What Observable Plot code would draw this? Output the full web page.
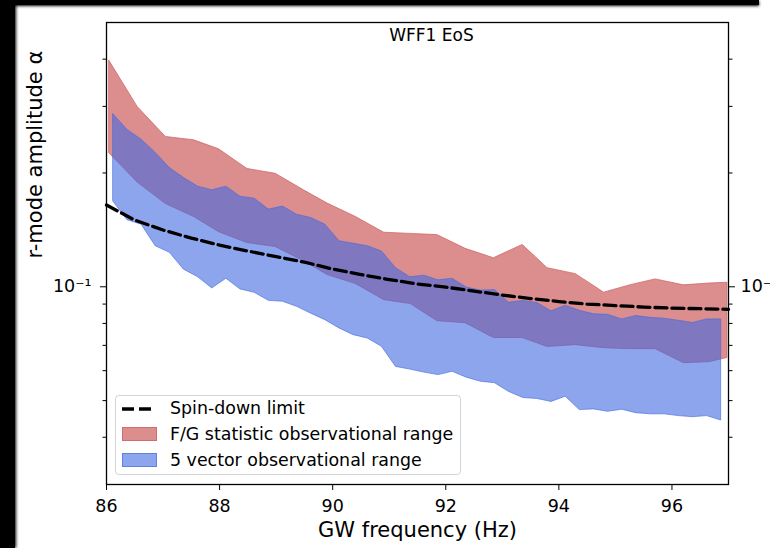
<!DOCTYPE html>
<html><head><meta charset="utf-8">
<script src="https://cdn.jsdelivr.net/npm/d3@7"></script>
<script src="https://cdn.jsdelivr.net/npm/@observablehq/plot@0.6"></script>
<style>
html,body{margin:0;padding:0;background:#fff;}
#wrap{position:relative;width:770px;height:548px;overflow:hidden;font-family:"DejaVu Sans",sans-serif;}
#wrap svg.plotsvg{position:absolute;left:0;top:0;}
.bar{position:absolute;background:#000;z-index:5;}
#legend{position:absolute;left:115px;top:395px;width:346px;height:80px;border:1px solid #d4d4d4;border-radius:4px;background:rgba(255,255,255,0.8);z-index:4;box-sizing:border-box;}
.lt{position:absolute;left:54px;font-size:17.4px;line-height:17px;color:#000;white-space:nowrap;}
.patch{position:absolute;left:6px;width:35px;height:14px;box-sizing:border-box;}
</style></head><body>
<div id="wrap">
  <div class="bar" style="left:0;top:0;width:759px;height:5px;box-shadow:0 1px 3px #000;"></div>
  <div class="bar" style="left:0;top:0;width:15px;height:548px;box-shadow:1px 0 3px #000;"></div>
  <div id="legend">
    <svg width="40" height="20" style="position:absolute;left:4px;top:3px"><line x1="2" x2="33" y1="10" y2="10" stroke="#000" stroke-width="3.3" stroke-dasharray="12,5"/></svg>
    <div class="lt" style="top:4px">Spin-down limit</div>
    <div class="patch" style="top:31px;background:rgba(205,92,92,0.7);border:1px solid rgba(205,92,92,0.7)"></div>
    <div class="lt" style="top:30px">F/G statistic observational range</div>
    <div class="patch" style="top:57px;background:rgba(65,105,225,0.6);border:1px solid rgba(65,105,225,0.6)"></div>
    <div class="lt" style="top:56px">5 vector observational range</div>
  </div>
</div>
<script>
// Spin-down limit
const sdFreq = [86, 86.5, 87, 87.5, 88, 88.5, 89, 89.5, 90, 90.5, 91, 91.5, 92, 92.5, 93, 93.5, 94, 94.5, 95, 95.5, 96, 96.5, 97];
const sdAlpha = [0.1645, 0.1501, 0.1413, 0.1345, 0.1289, 0.1243, 0.1202, 0.1162, 0.1114, 0.1077, 0.1045, 0.1017, 0.0998, 0.0974, 0.0951, 0.0931, 0.0914, 0.0900, 0.0892, 0.0884, 0.0878, 0.0875, 0.0872];

// F/G statistic observational range
const fgFreq = [86.05, 86.55, 87.05, 87.55, 87.99, 88.49, 88.99, 89.49, 89.91, 90.41, 90.91, 91.38, 91.85, 92.35, 92.85, 93.36, 93.80, 94.30, 94.80, 95.27, 95.71, 96.21, 96.66, 96.98];
const fgHigh = [0.396, 0.299, 0.249, 0.244, 0.231, 0.205, 0.199, 0.180, 0.166, 0.153, 0.139, 0.138, 0.137, 0.126, 0.119, 0.129, 0.112, 0.108, 0.0965, 0.101, 0.1046, 0.1009, 0.102, 0.1025];
const fgLow = [0.2254, 0.1886, 0.1655, 0.1529, 0.1395, 0.1305, 0.1274, 0.1169, 0.1074, 0.1017, 0.0922, 0.0900, 0.0811, 0.0801, 0.0732, 0.0732, 0.0693, 0.0701, 0.0688, 0.0684, 0.0684, 0.0628, 0.0632, 0.0648];

// 5 vector observational range
const fvFreq = [86.12, 86.37, 86.62, 86.87, 87.12, 87.37, 87.62, 87.87, 88.12, 88.37, 88.62, 88.87, 89.12, 89.37, 89.62, 89.87, 90.12, 90.37, 90.62, 90.87, 91.12, 91.37, 91.62, 91.87, 92.12, 92.37, 92.62, 92.87, 93.12, 93.37, 93.62, 93.87, 94.12, 94.37, 94.62, 94.87, 95.12, 95.37, 95.62, 95.87, 96.12, 96.37, 96.62, 96.87];
const fvHigh = [0.286, 0.260, 0.245, 0.226, 0.206, 0.194, 0.184, 0.180, 0.184, 0.173, 0.171, 0.160, 0.163, 0.155, 0.152, 0.146, 0.132, 0.130, 0.128, 0.124, 0.112, 0.106, 0.107, 0.104, 0.105, 0.0995, 0.0977, 0.0980, 0.0908, 0.0917, 0.0906, 0.0861, 0.0891, 0.0864, 0.0846, 0.0843, 0.0820, 0.0837, 0.0828, 0.0823, 0.0813, 0.0802, 0.0820, 0.0820];
const fvLow = [0.168, 0.150, 0.146, 0.128, 0.123, 0.111, 0.106, 0.099, 0.105, 0.0984, 0.0964, 0.0918, 0.0913, 0.0885, 0.0849, 0.0816, 0.0776, 0.0745, 0.0730, 0.0694, 0.0614, 0.0604, 0.0593, 0.0584, 0.0596, 0.0575, 0.0561, 0.0556, 0.0527, 0.0508, 0.0505, 0.0496, 0.0512, 0.0472, 0.0474, 0.0467, 0.0473, 0.0463, 0.0460, 0.0460, 0.0455, 0.0452, 0.0455, 0.0443];

// Ticks
const xTicks = [86, 88, 90, 92, 94, 96];
const yMajorTicks = [0.1];
const yMajorLabels = ["10⁻¹"];
const yMinorTicks = [0.04, 0.05, 0.06, 0.07, 0.08, 0.09, 0.2, 0.3, 0.4];

const titleText = "WFF1 EoS";
const xLabel = "GW frequency (Hz)";
const yLabel = "r-mode amplitude α";

const sd = sdFreq.map((f, i) => ({f, a: sdAlpha[i]}));
const fg = fgFreq.map((f, i) => ({f, lo: fgLow[i], hi: fgHigh[i]}));
const fv = fvFreq.map((f, i) => ({f, lo: fvLow[i], hi: fvHigh[i]}));
const majorFmt = d => yMajorLabels[yMajorTicks.indexOf(d)];

const plot = Plot.plot({
  width: 770, height: 548,
  marginLeft: 106, marginRight: 42, marginTop: 22, marginBottom: 64,
  style: {background: "white", fontFamily: "DejaVu Sans, sans-serif", fontSize: "17px", color: "black"},
  x: {domain: [86, 97]},
  y: {type: "log", domain: [0.03, 0.5]},
  marks: [
    Plot.areaY(fg, {x: "f", y1: "lo", y2: "hi", fill: "#cd5c5c", fillOpacity: 0.7, stroke: "#cd5c5c", strokeOpacity: 0.7, strokeWidth: 1}),
    Plot.areaY(fv, {x: "f", y1: "lo", y2: "hi", fill: "royalblue", fillOpacity: 0.6, stroke: "royalblue", strokeOpacity: 0.6, strokeWidth: 1}),
    Plot.line(sd, {x: "f", y: "a", stroke: "black", strokeWidth: 3.3, strokeDasharray: "12,5"}),
    Plot.frame({stroke: "black", strokeWidth: 1.3}),
    Plot.axisX({ticks: xTicks, tickFormat: d => String(d), tickSize: 6, tickPadding: 9, fontSize: 17.5, label: null}),
    Plot.axisY({anchor: "left", ticks: yMajorTicks, tickFormat: majorFmt, tickSize: 6, tickPadding: 9, fontSize: 17.5, label: null}),
    Plot.axisY({anchor: "left", ticks: yMinorTicks, tickSize: 3.5, fill: "none", label: null}),
    Plot.axisY({anchor: "right", ticks: yMajorTicks, tickFormat: majorFmt, tickSize: 6, tickPadding: 6, fontSize: 17.5, label: null}),
    Plot.axisY({anchor: "right", ticks: yMinorTicks, tickSize: 3.5, fill: "none", label: null}),
    Plot.text([titleText], {frameAnchor: "top", lineAnchor: "top", dx: 14, dy: 6, fontSize: 17}),
    Plot.text([xLabel], {frameAnchor: "bottom", lineAnchor: "middle", dy: 46, fontSize: 21}),
    Plot.text([yLabel], {frameAnchor: "left", lineAnchor: "middle", rotate: -90, dx: -71, dy: 5, fontSize: 21})
  ]
});
plot.classList.add("plotsvg");
document.getElementById("wrap").prepend(plot);
</script>
</body></html>
